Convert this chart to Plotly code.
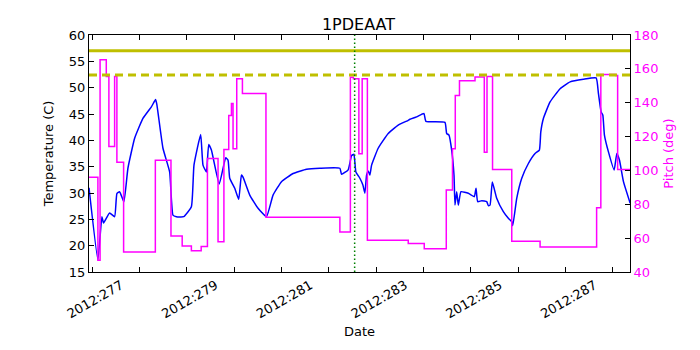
import plotly.graph_objects as go

# ---- data (day of year 2012) ----
temp_day = [276.935, 277.123, 277.207, 277.243, 277.370, 277.476, 277.524, 277.581, 277.672, 277.757,
            277.899, 278.074, 278.252, 278.342, 278.370, 278.497, 278.638, 278.708, 278.780, 278.934,
            279.097, 279.152, 279.294, 279.342, 279.414, 279.463, 279.520, 279.685, 279.822, 279.871,
            279.907, 280.013, 280.097, 280.154, 280.188, 280.330, 280.505, 280.683, 280.822, 281.000,
            281.245, 281.529, 281.810, 282.233, 282.268, 282.408, 282.480, 282.529, 282.571, 282.655,
            282.719, 282.761, 282.797, 282.831, 282.867, 282.903, 283.042, 283.254, 283.465, 283.677,
            283.712, 283.854, 284.008, 284.051, 284.452, 284.488, 284.537, 284.594, 284.643, 284.664,
            284.700, 284.734, 284.791, 284.945, 285.072, 285.108, 285.144, 285.228, 285.334, 285.368,
            285.404, 285.452, 285.545, 285.685, 285.791, 285.863, 285.884, 285.968, 286.074, 286.214,
            286.355, 286.446, 286.476, 286.531, 286.672, 286.884, 287.095, 287.376, 287.645, 287.693,
            287.750, 287.786, 287.820, 287.905, 288.025, 288.082, 288.137, 288.222, 288.364]
temp_val = [31.0, 17.3, 25.5, 24.3, 26.2, 25.5, 29.9, 30.25, 28.35, 34.7,
            40.4, 44.15, 46.35, 47.75, 46.7, 38.5, 34.0, 25.8, 25.5, 25.5,
            27.4, 35.3, 41.1, 35.3, 34.0, 39.2, 38.15, 31.7, 36.7, 36.25,
            32.8, 30.9, 28.8, 33.4, 33.0, 29.6, 27.1, 25.5, 29.6, 32.15,
            33.7, 34.5, 34.7, 34.7, 33.55, 34.4, 37.1, 37.35, 34.0, 32.8,
            31.5, 29.95, 33.4, 34.2, 33.4, 35.3, 38.5, 41.3, 42.9, 43.8,
            44.0, 44.45, 45.1, 43.6, 43.4, 41.3, 41.0, 38.15, 33.4, 27.7,
            30.25, 27.7, 30.25, 29.95, 29.3, 30.9, 28.35, 28.55, 28.35, 27.6,
            27.7, 32.1, 29.0, 26.45, 25.2, 24.55, 23.8, 29.0, 32.8, 35.6,
            37.5, 38.15, 41.6, 44.15, 47.3, 49.8, 51.1, 51.6, 51.85, 48.9,
            45.4, 44.8, 41.0, 37.8, 34.35, 37.5, 36.25, 32.15, 28.05]

pitch_day = [276.935, 277.123, 277.169, 277.300, 277.355, 277.476, 277.524, 277.666, 278.336, 278.666,
             278.903, 279.097, 279.304, 279.436, 279.660, 279.784, 279.886, 279.943, 279.977, 280.055,
             280.175, 280.672, 282.233, 282.455, 282.518, 282.634, 282.704, 282.814, 283.677, 284.015,
             284.480, 284.611, 284.670, 284.759, 285.087, 285.283, 285.340, 285.457, 285.863, 286.461,
             287.655, 287.744, 288.057, 288.099, 288.364]
pitch_val = [96.0, 46.9, 165.4, 155.5, 114.2, 155.5, 104.9, 51.8, 106.0, 61.2,
             55.4, 52.5, 55.1, 107.0, 57.8, 112.4, 132.5, 139.6, 112.8, 154.2,
             145.5, 72.4, 63.6, 155.1, 154.2, 109.9, 154.2, 58.7, 56.9, 53.8,
             88.5, 112.8, 144.3, 153.0, 155.2, 110.8, 155.5, 100.6, 58.1, 54.7,
             77.9, 156.7, 156.1, 100.6, 100.6]

limit_solid = 57.0
limit_dashed = 52.4
marker_day = 282.545

x_range = [276.935, 288.36]
tick_days = list(range(277, 289))
tick_text = ["2012:%d" % d if d % 2 == 1 else "" for d in tick_days]

FONT = "DejaVu Sans"

fig = go.Figure()
fig.add_trace(go.Scatter(x=temp_day, y=temp_val, mode="lines",
                         line=dict(color="#0000ff", width=1.5, shape="spline", smoothing=0.4),
                         showlegend=False, yaxis="y"))
fig.add_trace(go.Scatter(x=pitch_day, y=pitch_val, mode="lines",
                         line=dict(color="#ff00ff", width=1.5, shape="hv"),
                         showlegend=False, yaxis="y2"))

fig.add_shape(type="line", xref="x domain", yref="y", x0=0, x1=1, y0=limit_solid, y1=limit_solid,
              line=dict(color="#bfbf00", width=3), layer="above")
fig.add_shape(type="line", xref="x domain", yref="y", x0=0, x1=1, y0=limit_dashed, y1=limit_dashed,
              line=dict(color="#bfbf00", width=3, dash="8px,5px"), layer="above")
fig.add_shape(type="line", xref="x", yref="y domain", x0=marker_day, x1=marker_day, y0=0, y1=1,
              line=dict(color="#008000", width=1.5, dash="1.5px,2.5px"), layer="above")

# page body has an 8px margin; size the figure so the plot lands where the reference has it
fig.update_layout(
    width=692, height=342,
    margin=dict(l=81, r=70, t=27, b=78),
    paper_bgcolor="white", plot_bgcolor="white",
    font=dict(family=FONT, size=13, color="black"),
    title=dict(text="1PDEAAT", x=0.5065, xanchor="center", y=0.953, yanchor="middle",
               font=dict(family=FONT, size=16, color="black")),
    xaxis=dict(range=x_range, tickvals=tick_days, ticktext=tick_text, tickangle=-30,
               ticklabelshift=29,
               ticks="inside", ticklen=5, tickcolor="black", showline=True, linecolor="black",
               linewidth=1, mirror="ticks", showgrid=False, zeroline=False, automargin=False,
               title=dict(text="Date", font=dict(size=13), standoff=6),
               tickfont=dict(size=13)),
    yaxis=dict(range=[15, 60], dtick=5, ticks="inside", ticklen=5, tickcolor="black",
               showline=True, linecolor="black", linewidth=1, showgrid=False, zeroline=False,
               automargin=False,
               title=dict(text="Temperature (C)", font=dict(size=13), standoff=12),
               tickfont=dict(size=13)),
    yaxis2=dict(range=[40, 180], dtick=20, overlaying="y", side="right", anchor="x",
                ticks="inside", ticklen=5, tickcolor="black", showline=True, linecolor="black",
                linewidth=1, showgrid=False, zeroline=False, automargin=False,
                tickfont=dict(size=13, color="#ff00ff"),
                title=dict(text="Pitch (deg)", font=dict(size=13, color="#ff00ff"), standoff=6)),
)

fig.write_html("out.html")
